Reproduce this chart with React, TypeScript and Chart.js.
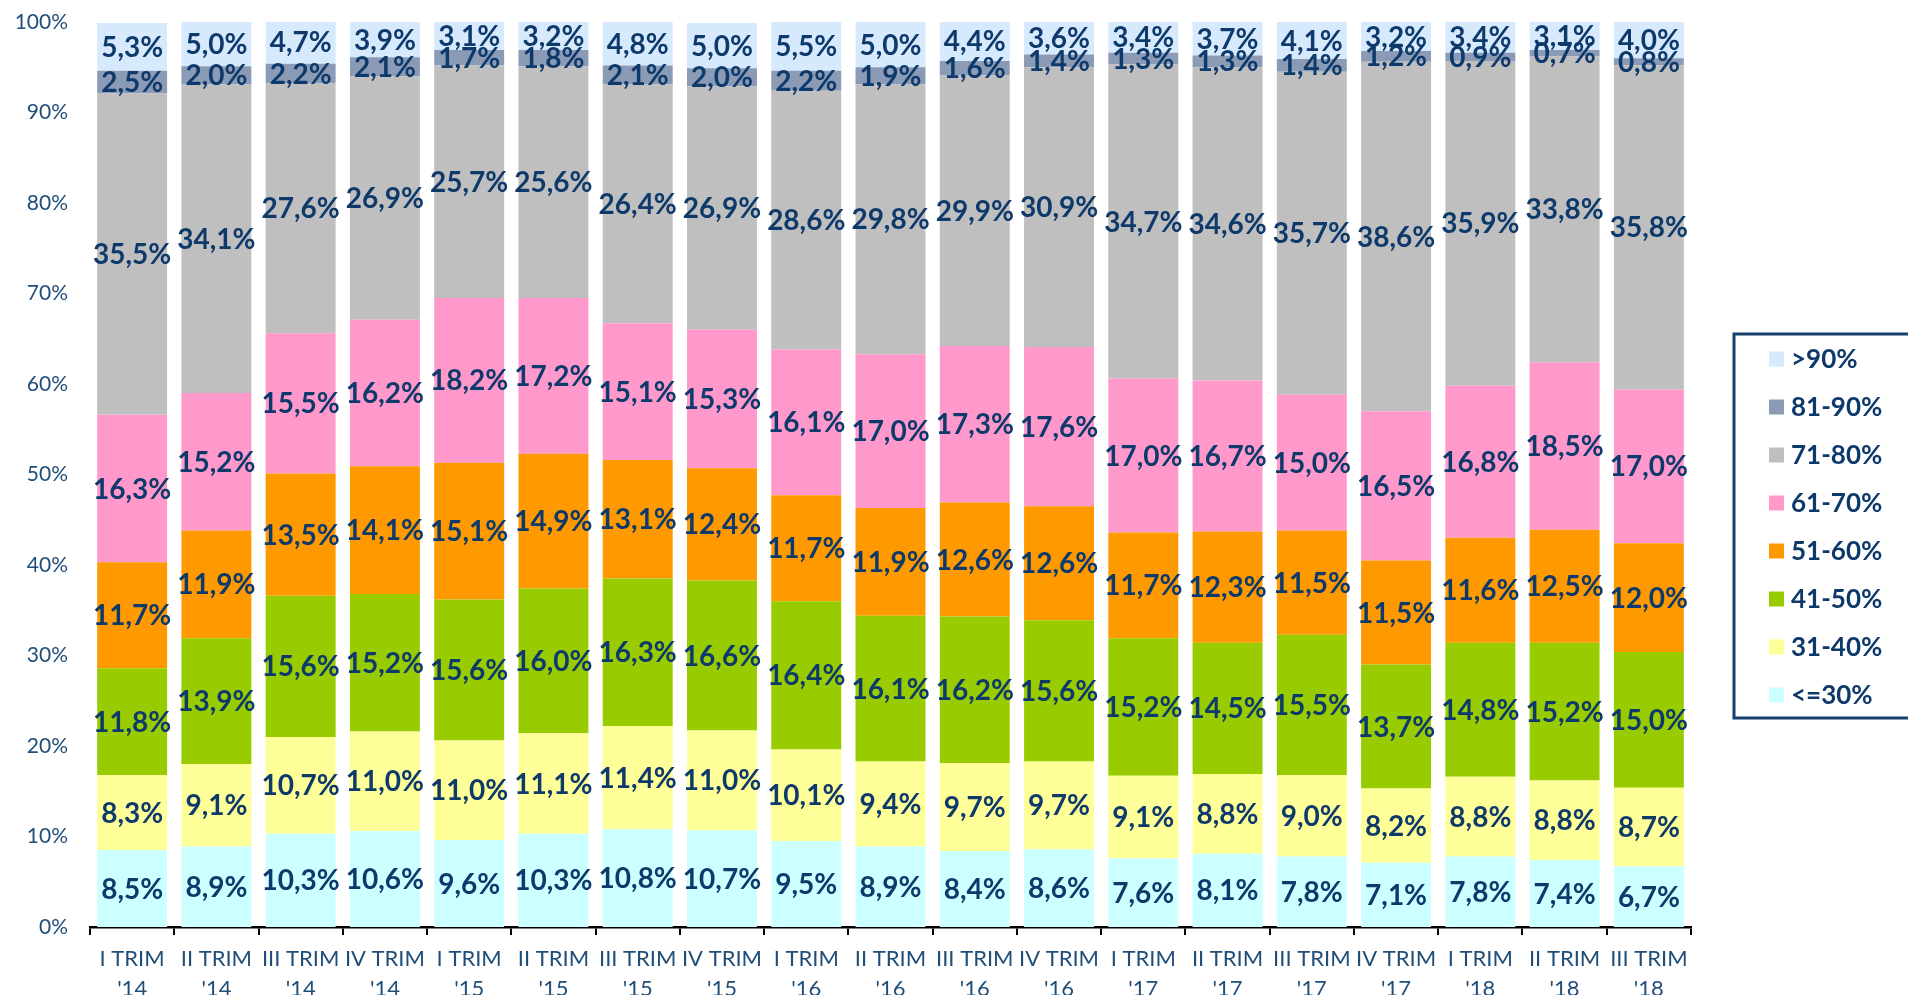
import React, { useEffect, useRef } from 'react';
import { Chart, registerables } from 'chart.js';

Chart.register(...registerables);

const quarterLabels = ['I TRIM', 'II TRIM', 'III TRIM', 'IV TRIM', 'I TRIM', 'II TRIM', 'III TRIM', 'IV TRIM', 'I TRIM', 'II TRIM', 'III TRIM', 'IV TRIM', 'I TRIM', 'II TRIM', 'III TRIM', 'IV TRIM', 'I TRIM', 'II TRIM', 'III TRIM'];
const yearLabels = ["'14", "'14", "'14", "'14", "'15", "'15", "'15", "'15", "'16", "'16", "'16", "'16", "'17", "'17", "'17", "'17", "'18", "'18", "'18"];

const seriesNames = ['<=30%', '31-40%', '41-50%', '51-60%', '61-70%', '71-80%', '81-90%', '>90%'];
const seriesColors = ['#CCFFFF', '#FFFF99', '#99CC00', '#FF9900', '#FF99CC', '#BFBFBF', '#8B9BB5', '#D6E9FD'];

const s30 = [8.5, 8.9, 10.3, 10.6, 9.6, 10.3, 10.8, 10.7, 9.5, 8.9, 8.4, 8.6, 7.6, 8.1, 7.8, 7.1, 7.8, 7.4, 6.7];
const s31_40 = [8.3, 9.1, 10.7, 11.0, 11.0, 11.1, 11.4, 11.0, 10.1, 9.4, 9.7, 9.7, 9.1, 8.8, 9.0, 8.2, 8.8, 8.8, 8.7];
const s41_50 = [11.8, 13.9, 15.6, 15.2, 15.6, 16.0, 16.3, 16.6, 16.4, 16.1, 16.2, 15.6, 15.2, 14.5, 15.5, 13.7, 14.8, 15.2, 15.0];
const s51_60 = [11.7, 11.9, 13.5, 14.1, 15.1, 14.9, 13.1, 12.4, 11.7, 11.9, 12.6, 12.6, 11.7, 12.3, 11.5, 11.5, 11.6, 12.5, 12.0];
const s61_70 = [16.3, 15.2, 15.5, 16.2, 18.2, 17.2, 15.1, 15.3, 16.1, 17.0, 17.3, 17.6, 17.0, 16.7, 15.0, 16.5, 16.8, 18.5, 17.0];
const s71_80 = [35.5, 34.1, 27.6, 26.9, 25.7, 25.6, 26.4, 26.9, 28.6, 29.8, 29.9, 30.9, 34.7, 34.6, 35.7, 38.6, 35.9, 33.8, 35.8];
const s81_90 = [2.5, 2.0, 2.2, 2.1, 1.7, 1.8, 2.1, 2.0, 2.2, 1.9, 1.6, 1.4, 1.3, 1.3, 1.4, 1.2, 0.9, 0.7, 0.8];
const s90 = [5.3, 5.0, 4.7, 3.9, 3.1, 3.2, 4.8, 5.0, 5.5, 5.0, 4.4, 3.6, 3.4, 3.7, 4.1, 3.2, 3.4, 3.1, 4.0];

const seriesValues = [s30, s31_40, s41_50, s51_60, s61_70, s71_80, s81_90, s90];

const NAVY = '#0E3A6B';
const AXIS_NAVY = '#1F4E79';

const fmt = (v: number) => v.toFixed(1).replace('.', ',') + '%';

const labelPlugin = {
  id: 'segLabels',
  afterDatasetsDraw(chart: any) {
    const ctx = chart.ctx;
    ctx.save();
    ctx.font = 'bold 28px Lato';
    ctx.fillStyle = NAVY;
    ctx.textAlign = 'center';
    ctx.textBaseline = 'middle';
    chart.data.datasets.forEach((ds: any, di: number) => {
      const meta = chart.getDatasetMeta(di);
      meta.data.forEach((el: any, i: number) => {
        const p = el.getProps(['x', 'y', 'base'], true);
        const cy = (p.y + p.base) / 2;
        ctx.fillText(fmt(ds.data[i]), p.x, cy + 1);
      });
    });
    ctx.restore();
  },
};

const legendPlugin = {
  id: 'boxLegend',
  afterDraw(chart: any) {
    const ctx = chart.ctx;
    ctx.save();
    const left = 1734;
    const top = 334;
    const h = 384;
    ctx.strokeStyle = '#17406D';
    ctx.lineWidth = 3;
    ctx.strokeRect(left, top, 400, h);
    ctx.font = 'bold 26px Lato';
    ctx.textBaseline = 'middle';
    ctx.textAlign = 'left';
    const ds = chart.data.datasets;
    for (let k = 0; k < ds.length; k++) {
      const d = ds[ds.length - 1 - k];
      const cy = 359 + k * 48;
      ctx.fillStyle = d.backgroundColor;
      ctx.fillRect(1769, cy - 7.5, 15, 15);
      ctx.fillStyle = NAVY;
      ctx.fillText(d.label, 1791, cy + 1);
    }
    ctx.restore();
  },
};

export default function App() {
  const ref = useRef<HTMLCanvasElement | null>(null);
  useEffect(() => {
    document.body.style.margin = '0';
    const canvas = ref.current!;
    const chart = new Chart(canvas, {
      type: 'bar',
      data: {
        labels: quarterLabels.map((q, i) => [q, yearLabels[i]]),
        datasets: seriesNames.map((name, i) => ({
          label: name,
          data: seriesValues[i],
          backgroundColor: seriesColors[i],
          borderWidth: 0,
          categoryPercentage: 1,
          barPercentage: 0.83,
        })),
      },
      options: {
        animation: false,
        responsive: false,
        maintainAspectRatio: false,
        layout: { padding: { left: 0, right: 217, top: 22, bottom: 0 } },
        plugins: {
          legend: { display: false },
          tooltip: { enabled: false },
        },
        scales: {
          x: {
            stacked: true,
            grid: {
              display: true,
              drawOnChartArea: false,
              drawTicks: true,
              tickLength: 8,
              color: '#000000',
              lineWidth: 2,
              offset: true,
            },
            border: { display: true, color: '#000000', width: 2.5 },
            ticks: {
              color: AXIS_NAVY,
              font: { family: 'Lato', size: 22, lineHeight: 1.36 },
              padding: 9,
              maxRotation: 0,
              autoSkip: false,
            },
            afterFit: (s: any) => {
              s.height = 68;
            },
          },
          y: {
            stacked: true,
            min: 0,
            max: 100,
            grid: { display: false, drawTicks: true, tickLength: 22 },
            border: { display: false },
            ticks: {
              stepSize: 10,
              color: AXIS_NAVY,
              font: { family: 'Lato', size: 21 },
              padding: 0,
              callback: (v: any) => v + '%',
            },
            afterFit: (s: any) => {
              s.width = 90;
            },
          },
        },
      },
      plugins: [labelPlugin, legendPlugin],
    });
    return () => chart.destroy();
  }, []);
  return (
    <div style={{ width: 1908, height: 995 }}>
      <canvas ref={ref} width={1908} height={995} style={{ display: 'block' }} />
    </div>
  );
}
